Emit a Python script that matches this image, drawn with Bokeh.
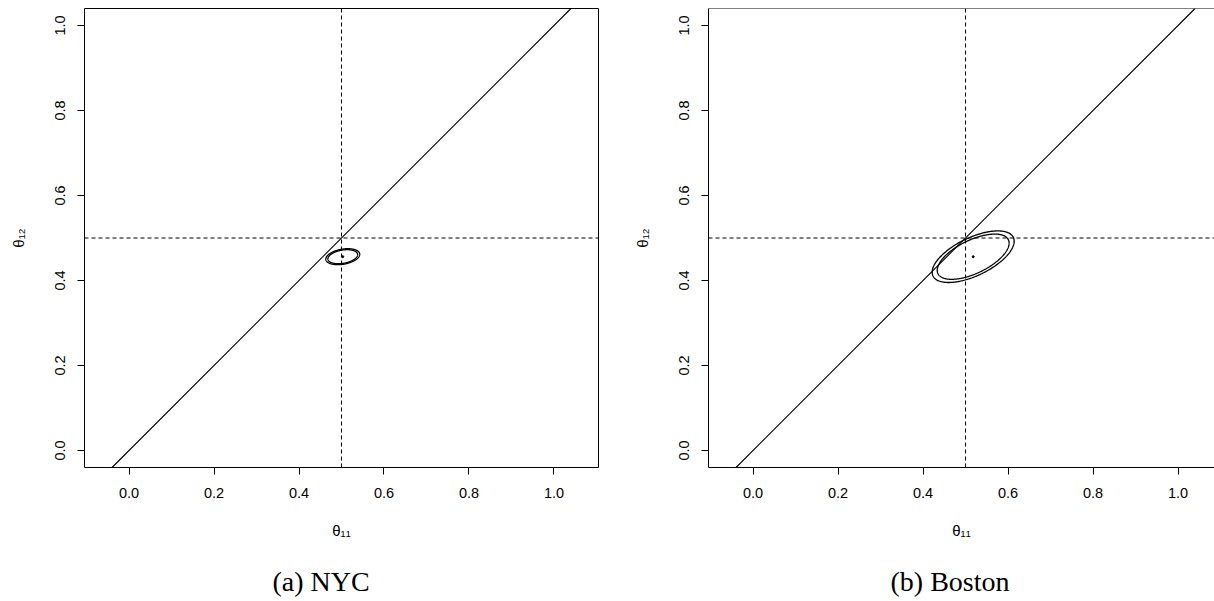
import numpy as np
from bokeh.plotting import figure
from bokeh.models import Range1d, Span, Slope, FixedTicker, Title
from bokeh.layouts import row
from bokeh.embed import file_html
from bokeh.resources import INLINE

# ---------------- data ----------------
captions = ["(a) NYC", "(b) Boston"]
center_x = [0.503, 0.518]          # point estimate theta_11
center_y = [0.456, 0.456]          # point estimate theta_12
sd_x = [0.0163, 0.0394]
sd_y = [0.0077, 0.0248]
rho = [0.30, 0.60]
conf_levels = [0.90, 0.95]
ref_x = 0.5
ref_y = 0.5
ticks = [0.0, 0.2, 0.4, 0.6, 0.8, 1.0]
tick_labels = ["0.0", "0.2", "0.4", "0.6", "0.8", "1.0"]
x_label = "θ₁₁"
y_label = "θ₁₂"

SANS = "Liberation Sans"
SERIF = "Liberation Serif"


def ellipse(cx, cy, sx, sy, r, level, n=300):
    q = np.sqrt(-2.0 * np.log(1.0 - level))
    t = np.linspace(0, 2 * np.pi, n)
    x = cx + q * sx * np.cos(t)
    y = cy + q * sy * (r * np.cos(t) + np.sqrt(1 - r * r) * np.sin(t))
    return x, y


def style_axis(ax, vertical):
    ax.ticker = FixedTicker(ticks=ticks)
    ax.major_label_overrides = {t: l for t, l in zip(ticks, tick_labels)}
    ax.major_tick_out = 7
    ax.major_tick_in = 0
    ax.minor_tick_line_color = None
    ax.major_tick_line_color = "black"
    ax.major_label_text_font = SANS
    ax.major_label_text_font_size = "14.5px"
    ax.major_label_text_color = "black"
    ax.major_label_standoff = 13
    ax.axis_label_text_font = SANS
    ax.axis_label_text_font_size = "15px"
    ax.axis_label_text_font_style = "normal"
    ax.axis_label_text_color = "black"
    if vertical:
        ax.major_label_orientation = "vertical"
        ax.axis_label_standoff = 25
    else:
        ax.axis_label_standoff = 21


def panel(i, width, min_left, min_right, x_end, clipped, cap_offset):
    p = figure(width=width, height=601,
               x_range=Range1d(-0.1048, x_end), y_range=Range1d(-0.04, 1.04),
               output_backend="svg", toolbar_location=None,
               min_border_left=min_left, min_border_right=min_right,
               min_border_top=8, min_border_bottom=134,
               background_fill_color="white", border_fill_color="white")
    p.grid.visible = False
    p.xaxis.axis_label = x_label
    p.yaxis.axis_label = y_label
    style_axis(p.xaxis[0], False)
    style_axis(p.yaxis[0], True)
    if clipped:
        p.outline_line_color = None
        p.xaxis.axis_line_color = "black"
        p.yaxis.axis_line_color = "black"
        p.add_layout(Span(location=1.04, dimension="width",
                          line_color="black", line_width=1))
    else:
        p.outline_line_color = "black"
        p.outline_line_alpha = 1
        p.xaxis.axis_line_color = None
        p.yaxis.axis_line_color = None

    p.add_layout(Span(location=ref_x, dimension="height", line_color="black",
                      line_width=1, line_dash="4 3"))
    p.add_layout(Span(location=ref_y, dimension="width", line_color="black",
                      line_width=1, line_dash="4 3"))
    p.add_layout(Slope(gradient=1, y_intercept=0, line_color="black", line_width=1.1))

    for lev in conf_levels:
        ex, ey = ellipse(center_x[i], center_y[i], sd_x[i], sd_y[i], rho[i], lev)
        p.line(ex, ey, line_color="black", line_width=1.3)
    p.scatter([center_x[i]], [center_y[i]], size=2, color="black")

    # spacer between the axis and the caption
    p.add_layout(Title(text=" ", text_font_size="1px", standoff=19), "below")
    p.add_layout(Title(text=captions[i], align="left", offset=cap_offset,
                       vertical_align="bottom", standoff=0,
                       text_font=SERIF, text_font_size="28px",
                       text_font_style="normal", text_color="black"), "below")
    return p


p1 = panel(0, 620, 84, 22, 1.1048, False, 188)
p2 = panel(1, 594, 88, 0, -0.1048 + 506 / 425, True, 182)

layout = row(p1, p2, spacing=0)
open("out.html", "w").write(file_html(layout, INLINE))
